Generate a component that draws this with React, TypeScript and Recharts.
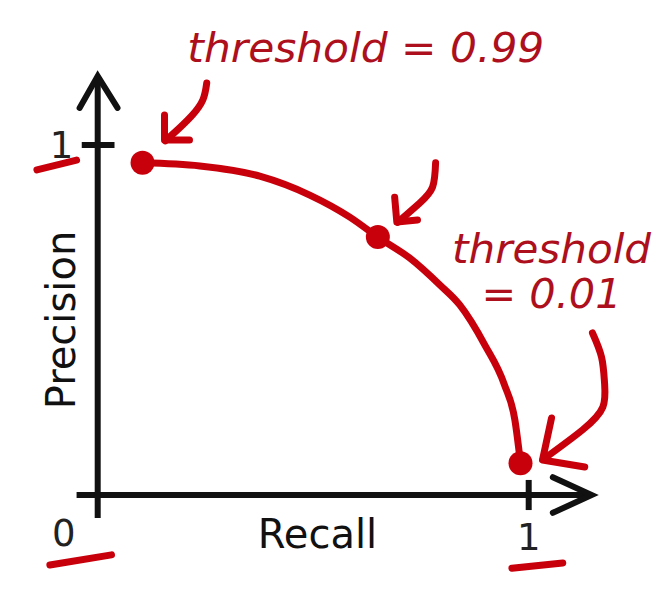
import React from "react";
import { ComposedChart, Line, Scatter, XAxis, YAxis, ReferenceLine, ReferenceDot } from "recharts";

// precision / recall curve
const recall = [0.104, 0.237, 0.376, 0.492, 0.585, 0.65, 0.724, 0.794, 0.84, 0.898, 0.944, 0.968, 0.981];
const precision = [0.949, 0.94, 0.911, 0.857, 0.794, 0.737, 0.677, 0.6, 0.543, 0.429, 0.314, 0.214, 0.091];

// the three marked thresholds
const markedRecall = [0.104, 0.65, 0.981];
const markedPrecision = [0.949, 0.737, 0.091];

// hand drawn arrows pointing at the marked points
const arrowTopX = [0.253, 0.244, 0.22, 0.19, 0.157];
const arrowTopY = [1.177, 1.129, 1.086, 1.049, 1.012];
const arrowTopHeadX = [0.155, 0.155, 0.213];
const arrowTopHeadY = [1.086, 1.014, 1.014];

const arrowMidX = [0.784, 0.777, 0.747, 0.696];
const arrowMidY = [0.949, 0.88, 0.834, 0.779];
const arrowMidHeadX = [0.689, 0.694, 0.742];
const arrowMidHeadY = [0.851, 0.78, 0.786];

const arrowLowX = [1.148, 1.169, 1.176, 1.172, 1.125, 1.034];
const arrowLowY = [0.463, 0.394, 0.32, 0.251, 0.186, 0.102];
const arrowLowHeadX = [1.053, 1.032, 1.13];
const arrowLowHeadY = [0.22, 0.1, 0.08];

// short red strokes under the tick labels
const underlines = [
  [{ x: -0.141, y: 0.929 }, { x: -0.049, y: 0.957 }],
  [{ x: -0.111, y: -0.2 }, { x: 0.032, y: -0.171 }],
  [{ x: 0.961, y: -0.209 }, { x: 1.079, y: -0.194 }],
];

const tickLabels = ["1", "0", "1"];
const notes = ["threshold = 0.99", "threshold", "= 0.01"];

const RED = "#c8000c";
const INK = "#ad0f1c";
const BLACK = "#111";
const SANS = "'DejaVu Sans', Verdana, sans-serif";

const pts = (xs: number[], ys: number[]) => xs.map((x, i) => ({ x, y: ys[i] }));

const textAt =
  (value: string, size: number, fill: string, opts: { italic?: boolean; width?: number; rotate?: boolean } = {}) =>
  (props: any) => {
    const vb = props.viewBox || {};
    const x = vb.x ?? 0;
    const y = vb.y ?? 0;
    return (
      <text
        x={x}
        y={y}
        textAnchor="middle"
        fontFamily={SANS}
        fontSize={size}
        fill={fill}
        fontStyle={opts.italic ? "italic" : "normal"}
        textLength={opts.width}
        lengthAdjust={opts.width ? "spacingAndGlyphs" : undefined}
        transform={opts.rotate ? `rotate(-90 ${x} ${y})` : undefined}
      >
        {value}
      </text>
    );
  };

const seg = (a: { x: number; y: number }, b: { x: number; y: number }) => [a, b];

export default function App() {
  const curve = pts(recall, precision);
  const marked = pts(markedRecall, markedPrecision);
  const shafts = [pts(arrowTopX, arrowTopY), pts(arrowMidX, arrowMidY), pts(arrowLowX, arrowLowY)];
  const heads = [pts(arrowTopHeadX, arrowTopHeadY), pts(arrowMidHeadX, arrowMidHeadY), pts(arrowLowHeadX, arrowLowHeadY)];

  return (
    <div style={{ position: "fixed", left: 0, top: 0, width: 660, height: 596, background: "#fff" }}>
      <ComposedChart width={660} height={596} margin={{ top: 5, right: 2, bottom: 13.5, left: 11.5 }}>
        <XAxis type="number" dataKey="x" domain={[-0.2, 1.3]} hide />
        <YAxis type="number" dataKey="y" domain={[-0.25, 1.4]} hide />

        {/* axes with arrows */}
        <ReferenceLine segment={seg({ x: -0.049, y: 0 }, { x: 1.14, y: 0 })} stroke={BLACK} strokeWidth={6} ifOverflow="visible" />
        <ReferenceLine segment={seg({ x: 0, y: -0.066 }, { x: 0, y: 1.19 })} stroke={BLACK} strokeWidth={6} ifOverflow="visible" />
        <ReferenceLine segment={seg({ x: -0.037, y: 1 }, { x: 0.039, y: 1 })} stroke={BLACK} strokeWidth={6} ifOverflow="visible" />
        <ReferenceLine segment={seg({ x: 1, y: 0.043 }, { x: 1, y: -0.043 })} stroke={BLACK} strokeWidth={6} ifOverflow="visible" />
        <Line
          data={pts([-0.042, 0, 0.046], [1.106, 1.197, 1.106])}
          dataKey="y"
          type="linear"
          stroke={BLACK}
          strokeWidth={6}
          strokeLinecap="round"
          dot={false}
          isAnimationActive={false}
        />
        <Line
          data={pts([1.056, 1.146, 1.056], [0.051, 0, -0.051])}
          dataKey="y"
          type="linear"
          stroke={BLACK}
          strokeWidth={6}
          strokeLinecap="round"
          dot={false}
          isAnimationActive={false}
        />

        {underlines.map((u, i) => (
          <ReferenceLine key={`u${i}`} segment={u} stroke={RED} strokeWidth={7} strokeLinecap="round" ifOverflow="visible" />
        ))}

        <Line data={curve} dataKey="y" type="monotone" stroke={RED} strokeWidth={7} dot={false} isAnimationActive={false} />
        <Scatter
          data={marked}
          dataKey="y"
          fill={RED}
          isAnimationActive={false}
          shape={(p: any) => <circle cx={p.cx} cy={p.cy} r={12} fill={RED} />}
        />

        {shafts.map((s, i) => (
          <Line
            key={`s${i}`}
            data={s}
            dataKey="y"
            type="natural"
            stroke={RED}
            strokeWidth={7}
            strokeLinecap="round"
            dot={false}
            isAnimationActive={false}
          />
        ))}
        {heads.map((h, i) => (
          <Line
            key={`h${i}`}
            data={h}
            dataKey="y"
            type="linear"
            stroke={RED}
            strokeWidth={7}
            strokeLinecap="round"
            strokeLinejoin="round"
            dot={false}
            isAnimationActive={false}
          />
        ))}

        {/* tick labels and axis titles */}
        <ReferenceDot x={-0.084} y={0.963} r={0} stroke="none" label={textAt(tickLabels[0], 37, "#222")} />
        <ReferenceDot x={-0.079} y={-0.146} r={0} stroke="none" label={textAt(tickLabels[1], 37, "#222")} />
        <ReferenceDot x={1} y={-0.157} r={0} stroke="none" label={textAt(tickLabels[2], 37, "#222")} />
        <ReferenceDot x={0.51} y={-0.151} r={0} stroke="none" label={textAt("Recall", 40, BLACK)} />
        <ReferenceDot x={-0.053} y={0.5} r={0} stroke="none" label={textAt("Precision", 40, BLACK, { rotate: true })} />

        {/* red notes */}
        <ReferenceDot x={0.622} y={1.237} r={0} stroke="none" label={textAt(notes[0], 40, INK, { italic: true, width: 357 })} />
        <ReferenceDot x={1.053} y={0.663} r={0} stroke="none" label={textAt(notes[1], 40, INK, { italic: true, width: 199 })} />
        <ReferenceDot x={1.053} y={0.534} r={0} stroke="none" label={textAt(notes[2], 40, INK, { italic: true, width: 140 })} />
      </ComposedChart>
    </div>
  );
}
